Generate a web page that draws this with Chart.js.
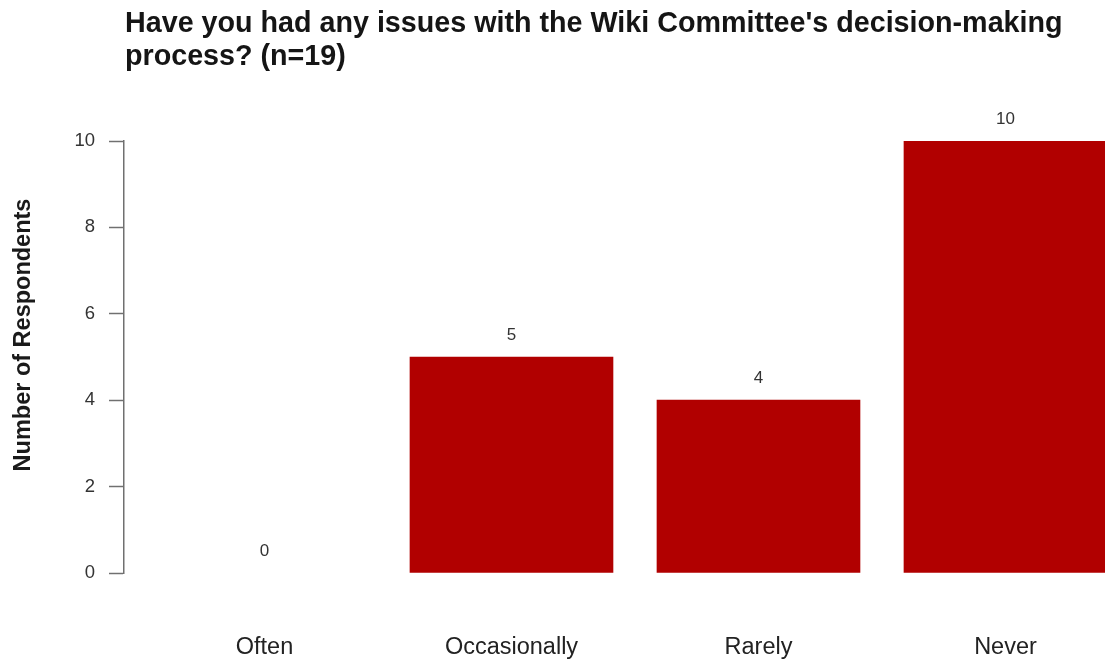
<!DOCTYPE html>
<html>
<head>
<meta charset="utf-8">
<script src="https://cdn.jsdelivr.net/npm/chart.js@4"></script>
<style>
  html, body { margin: 0; padding: 0; background: #fff; overflow: hidden; }
  #wrap { width: 1105px; height: 660px; }
</style>
</head>
<body>
<div id="wrap"><canvas id="bar-chart" width="1105" height="660"></canvas></div>
<script>
// survey data
const categories = ["Often", "Occasionally", "Rarely", "Never"];
const respondents = [0, 5, 4, 10];
const yTicks = [0, 2, 4, 6, 8, 10];
const titleLines = [
  "Have you had any issues with the Wiki Committee's decision-making",
  "process? (n=19)",
];
const yTitle = "Number of Respondents";

const FONT = "'Liberation Sans', Arial, Helvetica, sans-serif";

// plugin for chart title, y title and value labels (R barplot look)
const rStylePlugin = {
  id: "rStyle",
  afterDatasetsDraw(chart) {
    const ctx = chart.ctx;
    const meta = chart.getDatasetMeta(0);
    ctx.save();
    ctx.font = "17px " + FONT;
    ctx.fillStyle = "#333";
    ctx.textAlign = "center";
    ctx.textBaseline = "middle";
    meta.data.forEach(function (bar, i) {
      ctx.fillText(String(respondents[i]), bar.x, bar.y - 22);
    });
    ctx.restore();
  },
  afterDraw(chart) {
    const ctx = chart.ctx;
    ctx.save();
    ctx.font = "bold 28.7px " + FONT;
    ctx.fillStyle = "#151515";
    ctx.textAlign = "left";
    ctx.textBaseline = "alphabetic";
    titleLines.forEach(function (line, i) {
      ctx.fillText(line, 125, 32 + i * 33);
    });

    ctx.font = "bold 23.5px " + FONT;
    ctx.fillStyle = "#1a1a1a";
    ctx.textAlign = "center";
    ctx.textBaseline = "middle";
    ctx.translate(24, 335);
    ctx.rotate(-Math.PI / 2);
    ctx.fillText(yTitle, 0, 0);
    ctx.restore();
  },
};

function drawChart() {
  const ctx = document.getElementById("bar-chart");
  const points = respondents.map(function (v, i) {
    return { x: i, y: v };
  });

  const myChart = new Chart(ctx, {
    type: "bar",
    data: {
      datasets: [
        {
          data: points,
          backgroundColor: function (c) {
            return c.raw && c.raw.y === 0 ? "rgba(0,0,0,0)" : "#b10000";
          },
          borderWidth: 0,
          barThickness: 203,
        },
      ],
    },
    options: {
      responsive: false,
      animation: false,
      layout: {
        padding: { top: 141, left: 0, right: 0, bottom: 0 },
      },
      plugins: {
        legend: { display: false },
        tooltip: { enabled: false },
        title: { display: false },
      },
      scales: {
        x: {
          type: "linear",
          offset: false,
          min: -0.5688,
          max: 3.4029,
          afterBuildTicks: function (scale) {
            scale.ticks = categories.map(function (_, i) {
              return { value: i };
            });
          },
          afterFit: function (scale) {
            scale.height = 87;
          },
          grid: { display: false, drawTicks: false, offset: false },
          border: { display: false },
          ticks: {
            autoSkip: false,
            maxRotation: 0,
            padding: 60,
            color: "#222",
            font: { family: FONT, size: 23.5 },
            callback: function (value) {
              return categories[value];
            },
          },
        },
        y: {
          min: 0,
          max: 10,
          afterBuildTicks: function (scale) {
            scale.ticks = yTicks.map(function (v) {
              return { value: v };
            });
          },
          afterFit: function (scale) {
            scale.width = 124;
          },
          border: { display: true, color: "#707070", width: 1.5 },
          grid: {
            display: true,
            drawOnChartArea: false,
            drawTicks: true,
            tickLength: 15,
            tickWidth: 1.5,
            color: "#707070",
          },
          ticks: {
            padding: 14,
            color: "#333",
            font: { family: FONT, size: 18.5 },
          },
        },
      },
    },
    plugins: [rStylePlugin],
  });

  return myChart;
}

drawChart();
</script>
</body>
</html>
